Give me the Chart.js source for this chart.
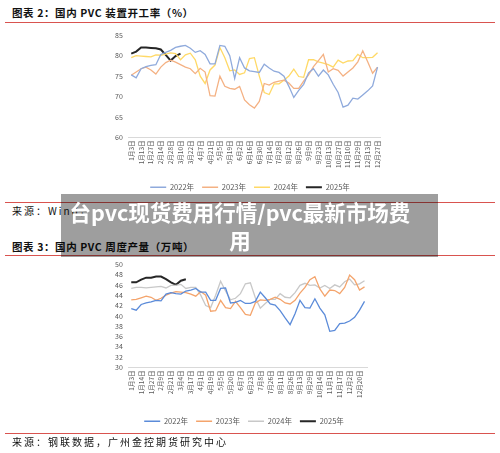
<!DOCTYPE html>
<html>
<head>
<meta charset="utf-8">
<script src="https://cdn.jsdelivr.net/npm/chart.js@4/dist/chart.umd.min.js"></script>
<style>
  html,body{margin:0;padding:0;background:#fff;}
  body{width:500px;height:453px;position:relative;overflow:hidden;font-family:"Noto Sans CJK SC",sans-serif;}
  .hdr{position:absolute;left:12px;font-size:10.5px;font-weight:bold;color:#111;letter-spacing:0.6px;white-space:nowrap;line-height:14px;}
  .src{position:absolute;left:12px;font-size:10px;color:#111;letter-spacing:2px;white-space:nowrap;line-height:14px;}
  .red{position:absolute;left:5px;width:490px;height:1px;background:#d9534f;}
  .cv{position:absolute;left:0;}
  #banner{position:absolute;left:61px;top:194px;width:377px;height:63px;background:rgba(0,0,0,0.38);color:#fff;font-weight:bold;font-size:21.5px;line-height:28px;text-align:center;padding:4px 19px 0 0;box-sizing:border-box;}
</style>
</head>
<body>
<div class="hdr" style="top:6px;">图表 2：国内 PVC 装置开工率（%）</div>
<div class="red" style="top:22px;"></div>
<div class="cv" style="top:25px;"><canvas id="c1" width="500" height="176"></canvas></div>
<div class="red" style="top:202px;"></div>
<div class="src" style="top:204px;">来源：Wind，</div>
<div class="hdr" style="top:240px;">图表 3：国内 PVC 周度产量（万吨）</div>
<div class="red" style="top:255px;"></div>
<div class="cv" style="top:254px;"><canvas id="c2" width="500" height="181"></canvas></div>
<div class="red" style="top:433px;"></div>
<div class="src" style="top:435px;">来源：钢联数据，广州金控期货研究中心</div>
<div id="banner">台pvc现货费用行情/pvc最新市场费<br>用</div>
<script>
// ---- Chart 1: 国内 PVC 装置开工率 (%) ----
const ticks1 = ['1月3日','1月13日','1月27日','2月14日','2月28日','3月10日','3月22日','4月7日','4月21日','5月5日','5月19日','6月2日','6月16日','6月30日','7月14日','7月28日','8月12日','8月26日','9月9日','9月23日','10月13日','10月27日','11月10日','11月29日','12月13日','12月27日'];
const rate2022 = [75.3,74.6,76.8,77.3,77.6,77.8,80.3,80.8,81.3,82,82.3,82.5,81.8,80.8,81.2,80.3,78,78,82.5,82.3,80,74.4,79.5,77,76.3,76.1,75.9,77.9,77,76.2,75.9,75,72.5,69.8,71.5,73,75.8,76.8,75,76.5,75.3,73,71,67.4,67.9,69.6,69.4,70.4,71.4,72.6,77.2];
const rate2023 = [75.2,76,76.8,77.2,76.5,75.5,77.2,78.3,78.9,78.4,77.8,77.2,76.8,75.6,76.9,76,70.2,70.1,75,72.5,72,71.8,72.5,69.2,68,67.2,68.8,73.2,72.8,73.5,73.8,74,73.3,72,72,73.8,75.3,77.3,78.8,80.3,76,76.8,76.4,75,76,77,78.5,81.2,78.5,75.7,77.2];
const rate2024 = [79.5,80,79.9,79.8,79.7,80.2,80.1,80.4,80.7,80.5,79,80.2,80.6,79,75,73.2,76.5,77.7,82,79.5,76.3,76.5,75.4,75.8,79.3,79.5,75,71,70.5,73.1,73.1,74,75,76.7,74.9,74.7,79,79,78.5,78.2,77.8,77.2,78.9,78.2,78.7,78.8,80.3,79.5,79.5,79.6,80.7];
const rate2025 = [80.5,81,82,82,81.9,81.8,81.5,80.2,78.8,79.9,80.5];

// ---- Chart 2: 国内 PVC 周度产量 (万吨) ----
const ticks2 = ['1月3日','1月14日','1月27日','2月9日','2月21日','3月4日','3月17日','4月1日','4月19日','5月5日','5月20日','6月7日','6月23日','7月8日','7月26日','8月11日','8月26日','9月13日','9月29日','10月14日','11月1日','11月17日','12月2日','12月20日'];
const out2022 = [41.4,41.1,42.2,42.5,42.7,43,42.9,44.2,44.5,44.3,44.2,44.8,45,45.3,44.6,44.6,43,43,45.3,45.4,42.5,42.6,43,42.4,42.4,42.8,44.6,43.5,42.3,42.1,41,39.6,38.3,40.4,43,41.6,41.5,43.3,41.5,40.2,37,37.2,38.5,38.6,39,39.7,41.1,42.8];
const out2023 = [43.1,43.2,43.5,43.8,43.6,43,43.4,44,44.4,44.7,44.6,44.5,44.2,43.8,44.7,44,40.9,41,43,41.6,41.4,42.8,41.6,40.3,40.1,42.5,43.1,43,43.2,43.6,43.2,42.5,42.3,43,44.4,45.5,47,47.6,45.2,43.8,45,44.9,44.3,45.5,47.9,47,45,45.6];
const out2024 = [45.3,45.5,45.5,45.4,45.5,45.6,45.7,45.4,45.9,45.9,46.1,45.3,45.5,45.5,44,42,41.6,44,46.7,44.8,43.1,43.4,44.3,46.2,46.4,43.5,41.5,42.4,43.2,43.2,44.3,43.6,43.5,44.5,45.9,46.3,45.9,46,45.4,45.9,45.3,46,45.6,46.6,47.1,46,46.2,46.8];
const out2025 = [46.5,46.5,47,47.4,47.4,47.6,47.6,47.1,46.5,46,46.8,47.1];

const years = ['2022年','2023年','2024年','2025年'];

// categories: labelled weeks alternate with unlabelled weeks
const cats1 = ticks1.flatMap((t,i)=> i < ticks1.length-1 ? [t,''] : [t]);
const cats2 = ticks2.flatMap((t,i)=> [t,'']);

const FONT = '"Noto Sans CJK SC", sans-serif';

function makeChart(id, cats, series, colors, widths, yMin, yMax, yStep, xH, pad, legendShift){
  return new Chart(document.getElementById(id), {
    type:'line',
    data:{
      labels:cats,
      datasets:series.map((d,k)=>({label:years[k],data:d,borderColor:colors[k],backgroundColor:colors[k],borderWidth:widths[k],pointRadius:0,tension:0,fill:false}))
    },
    plugins:[{id:'shiftLegend',afterLayout(chart){ if(chart.legend){chart.legend.left+=legendShift;chart.legend.right+=legendShift;} }}],
    options:{
      responsive:false,animation:false,devicePixelRatio:1,
      layout:{padding:pad},
      plugins:{
        tooltip:{enabled:false},
        legend:{position:'bottom',labels:{usePointStyle:true,pointStyle:'line',pointStyleWidth:16,color:'#595959',padding:8,font:{family:FONT,size:7.5}}}
      },
      scales:{
        x:{offset:true,grid:{display:false,drawTicks:false},border:{display:true,color:'#d9d9d9'},
           ticks:{autoSkip:false,maxRotation:90,minRotation:90,color:'#595959',padding:3,font:{family:FONT,size:6.5}},
           afterFit:(a)=>{a.height=xH;}},
        y:{min:yMin,max:yMax,grid:{display:false,drawTicks:false},border:{display:false},
           ticks:{stepSize:yStep,autoSkip:false,color:'#595959',padding:6,font:{family:FONT,size:7}}}
      }
    }
  });
}

makeChart('c1',cats1,[rate2022,rate2023,rate2024,rate2025],['#8FAADC','#F4B183','#FFD966','#262626'],[1.3,1.3,1.3,2],60,85,5,38,{top:10,left:109,right:120,bottom:0},5.5);
makeChart('c2',cats2,[out2022,out2023,out2024,out2025],['#5B8BD9','#F4A46C','#C8C8C8','#262626'],[1.3,1.3,1.3,2],30,50,2,42,{top:10,left:109,right:133,bottom:0},6);
</script>
</body>
</html>
